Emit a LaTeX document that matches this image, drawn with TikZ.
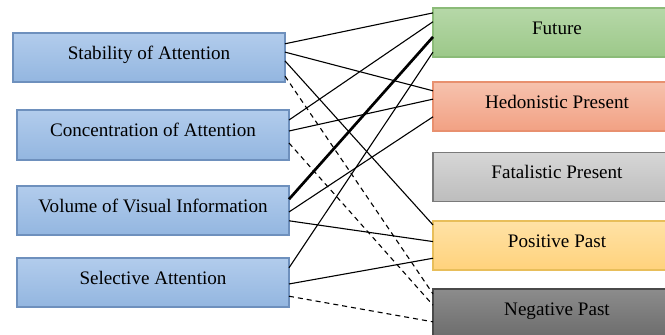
\documentclass[tikz,border=0pt]{standalone}
\usepackage{fontspec}
\setmainfont{Liberation Serif}
\usetikzlibrary{calc}
\definecolor{blueT}{HTML}{B2CCEC}
\definecolor{blueB}{HTML}{93B6E0}
\definecolor{blueD}{HTML}{6E90BD}
\definecolor{greenT}{HTML}{B6D8A8}
\definecolor{greenB}{HTML}{9CC889}
\definecolor{greenD}{HTML}{8BBB78}
\definecolor{redT}{HTML}{F6C2AE}
\definecolor{redB}{HTML}{F2A183}
\definecolor{redD}{HTML}{E8906F}
\definecolor{grayT}{HTML}{D6D6D6}
\definecolor{grayB}{HTML}{BDBDBD}
\definecolor{grayD}{HTML}{7A7A7A}
\definecolor{yelT}{HTML}{FFE2A6}
\definecolor{yelB}{HTML}{FFD27C}
\definecolor{yelD}{HTML}{E8BE5A}
\definecolor{darkT}{HTML}{8C8C8C}
\definecolor{darkB}{HTML}{6C6C6C}
\definecolor{darkD}{HTML}{4A4A4A}
\begin{document}
\begin{tikzpicture}[x=1pt,y=-1pt,
  box/.style={draw, line width=1.2pt, inner sep=0pt, outer sep=0pt,
    minimum height=49pt, text height=14pt, text depth=11pt,
    font=\fontsize{19.1}{22}\selectfont},
  leftbox/.style={box, minimum width=272pt, draw=blueD, top color=blueT, bottom color=blueB},
  rightbox/.style={box, minimum width=248pt},
  link/.style={line width=1.1pt, black},
  strong/.style={line width=2.7pt, black},
  dashlink/.style={line width=1.1pt, black, dash pattern=on 5pt off 4pt}]
\clip (0,0) rectangle (665,335);
\fill[white] (0,0) rectangle (665,335);
% left boxes
\node[leftbox] (stab) at (149,57.5) {Stability of Attention};
\node[leftbox, minimum height=50pt] (conc) at (153,135) {Concentration of Attention};
\node[leftbox] (vol) at (153,210.5) {Volume of Visual Information};
\node[leftbox] (sel) at (153,282.5) {Selective Attention};
% right boxes
\node[rightbox, draw=greenD, top color=greenT, bottom color=greenB] (fut) at (557,32.5) {Future};
\node[rightbox, draw=redD, top color=redT, bottom color=redB] (hed) at (557,106.5) {Hedonistic Present};
\node[rightbox, draw=grayD, top color=grayT, bottom color=grayB] (fat) at (557,177) {Fatalistic Present};
\node[rightbox, draw=yelD, top color=yelT, bottom color=yelB] (pos) at (557,245.5) {Positive Past};
\node[rightbox, draw=darkD, top color=darkT, bottom color=darkB] (neg) at (557,313.5) {Negative Past};
% connectors
\draw[link] ($(stab.north east)!0.22!(stab.south east)$) -- ($(fut.north west)!0.10!(fut.south west)$);
\draw[link] ($(stab.north east)!0.39!(stab.south east)$) -- ($(hed.north west)!0.18!(hed.south west)$);
\draw[link] ($(stab.north east)!0.57!(stab.south east)$) -- ($(pos.north west)!0.08!(pos.south west)$);
\draw[dashlink] ($(stab.north east)!0.88!(stab.south east)$) -- ($(neg.north west)!0.10!(neg.south west)$);
\draw[link] ($(conc.north east)!0.20!(conc.south east)$) -- ($(fut.north west)!0.28!(fut.south west)$);
\draw[link] ($(conc.north east)!0.42!(conc.south east)$) -- ($(hed.north west)!0.35!(hed.south west)$);
\draw[dashlink] ($(conc.north east)!0.66!(conc.south east)$) -- ($(neg.north west)!0.33!(neg.south west)$);
\draw[strong] ($(vol.north east)!0.27!(vol.south east)$) -- ($(fut.north west)!0.59!(fut.south west)$);
\draw[link] ($(vol.north east)!0.53!(vol.south east)$) -- ($(hed.north west)!0.71!(hed.south west)$);
\draw[link] ($(vol.north east)!0.71!(vol.south east)$) -- ($(pos.north west)!0.42!(pos.south west)$);
\draw[link] ($(sel.north east)!0.20!(sel.south east)$) -- ($(fut.north west)!0.90!(fut.south west)$);
\draw[link] ($(sel.north east)!0.53!(sel.south east)$) -- ($(pos.north west)!0.76!(pos.south west)$);
\draw[dashlink] ($(sel.north east)!0.78!(sel.south east)$) -- ($(neg.north west)!0.67!(neg.south west)$);
\end{tikzpicture}
\end{document}
